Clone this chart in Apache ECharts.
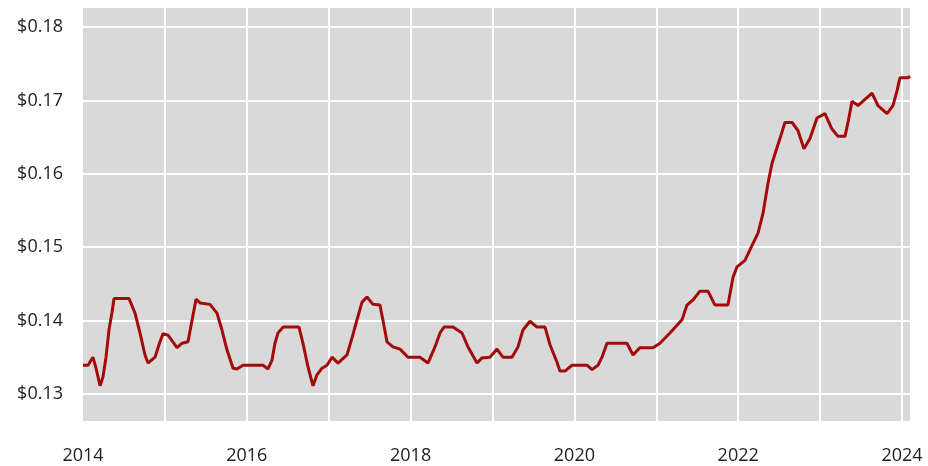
<!DOCTYPE html>
<html>
<head>
<meta charset="utf-8">
<script src="https://cdn.jsdelivr.net/npm/echarts@6/dist/echarts.min.js"></script>
<style>
  html, body { margin: 0; padding: 0; background: #fff; }
  #chart { width: 928px; height: 466px; }
</style>
</head>
<body>
<div id="chart"></div>
<script>
// decimal year of each reading
var years = [2014.000, 2014.061, 2014.122, 2014.159, 2014.208, 2014.244, 2014.281, 2014.317, 2014.354, 2014.379,
  2014.562, 2014.635, 2014.696, 2014.757, 2014.794, 2014.879, 2014.940, 2014.977, 2015.038, 2015.148,
  2015.209, 2015.282, 2015.331, 2015.380, 2015.429, 2015.551, 2015.636, 2015.697, 2015.758, 2015.832,
  2015.880, 2015.954, 2016.198, 2016.259, 2016.308, 2016.344, 2016.381, 2016.442, 2016.637, 2016.686,
  2016.747, 2016.808, 2016.857, 2016.918, 2016.979, 2017.040, 2017.114, 2017.223, 2017.284, 2017.346,
  2017.407, 2017.468, 2017.541, 2017.626, 2017.663, 2017.712, 2017.785, 2017.871, 2017.968, 2018.115,
  2018.212, 2018.298, 2018.359, 2018.408, 2018.518, 2018.628, 2018.701, 2018.811, 2018.872, 2018.969,
  2019.055, 2019.128, 2019.238, 2019.311, 2019.372, 2019.458, 2019.543, 2019.641, 2019.702, 2019.788,
  2019.824, 2019.885, 2019.971, 2020.154, 2020.215, 2020.288, 2020.337, 2020.398, 2020.642, 2020.716,
  2020.801, 2020.960, 2021.045, 2021.167, 2021.314, 2021.375, 2021.448, 2021.533, 2021.631, 2021.717,
  2021.875, 2021.937, 2021.985, 2022.083, 2022.168, 2022.242, 2022.303, 2022.364, 2022.413, 2022.449,
  2022.510, 2022.571, 2022.657, 2022.730, 2022.803, 2022.877, 2022.962, 2023.060, 2023.145, 2023.219,
  2023.304, 2023.341, 2023.390, 2023.463, 2023.634, 2023.707, 2023.817, 2023.890, 2023.939, 2023.976,
  2024.073, 2024.098];

// price per kWh
var prices = [0.1339, 0.1339, 0.1350, 0.1335, 0.1311, 0.1323, 0.1350, 0.1387, 0.1411, 0.1430,
  0.1430, 0.1410, 0.1383, 0.1353, 0.1342, 0.1350, 0.1371, 0.1382, 0.1380, 0.1363,
  0.1369, 0.1371, 0.1400, 0.1429, 0.1424, 0.1422, 0.1410, 0.1387, 0.1360, 0.1335,
  0.1334, 0.1339, 0.1339, 0.1334, 0.1346, 0.1369, 0.1383, 0.1391, 0.1391, 0.1369,
  0.1337, 0.1311, 0.1326, 0.1335, 0.1339, 0.1350, 0.1342, 0.1353, 0.1376, 0.1401,
  0.1425, 0.1432, 0.1422, 0.1421, 0.1400, 0.1371, 0.1364, 0.1361, 0.1350, 0.1350,
  0.1342, 0.1364, 0.1383, 0.1391, 0.1391, 0.1383, 0.1364, 0.1342, 0.1349, 0.1350,
  0.1361, 0.1350, 0.1350, 0.1364, 0.1387, 0.1399, 0.1391, 0.1391, 0.1367, 0.1343,
  0.1331, 0.1331, 0.1339, 0.1339, 0.1333, 0.1339, 0.1350, 0.1369, 0.1369, 0.1353,
  0.1363, 0.1363, 0.1369, 0.1383, 0.1401, 0.1421, 0.1428, 0.1440, 0.1440, 0.1421,
  0.1421, 0.1459, 0.1473, 0.1482, 0.1502, 0.1519, 0.1546, 0.1587, 0.1614, 0.1627,
  0.1648, 0.1670, 0.1670, 0.1659, 0.1634, 0.1648, 0.1676, 0.1682, 0.1661, 0.1651,
  0.1651, 0.1670, 0.1699, 0.1693, 0.1710, 0.1693, 0.1682, 0.1693, 0.1713, 0.1731,
  0.1731, 0.1733];

var yTicks = [0.13, 0.14, 0.15, 0.16, 0.17, 0.18];

var chart = echarts.init(document.getElementById('chart'));

var seriesData = []
for (var i = 0; i < years.length; i++) {
  seriesData.push([years[i], prices[i]])
}

var option = {
  animation: false,
  grid: {
    left: 83,
    right: 18,
    top: 8,
    bottom: 45,
    show: true,
    backgroundColor: '#d9d9d9',
    borderWidth: 0
  },
  xAxis: {
    type: 'value',
    min: 2014,
    max: 2024.098,
    interval: 1,
    axisLine: { show: false },
    axisTick: { show: false },
    axisLabel: {
      color: '#222',
      fontFamily: 'Open Sans',
      fontSize: 18,
      margin: 26,
      showMaxLabel: false,
      formatter: function (v) {
        return (Math.abs(v - Math.round(v)) < 1e-6 && Math.round(v) % 2 === 0) ? String(Math.round(v)) : '';
      }
    },
    splitLine: {
      show: true,
      showMinLine: false,
      showMaxLine: false,
      lineStyle: { color: '#ffffff', width: 2 }
    }
  },
  yAxis: {
    type: 'value',
    min: 0.1263,
    max: 0.1826,
    axisLine: { show: false },
    axisTick: { show: false, customValues: yTicks },
    axisLabel: {
      customValues: yTicks,
      color: '#222',
      fontFamily: 'Open Sans',
      fontSize: 18,
      margin: 20,
      formatter: function (v) { return '$' + v.toFixed(2); }
    },
    splitLine: {
      show: true,
      lineStyle: { color: '#ffffff', width: 2 }
    }
  },
  series: [{
    type: 'line',
    data: seriesData,
    showSymbol: false,
    lineStyle: { color: '#a30a0a', width: 3 },
    clip: true
  }]
};
chart.setOption(option);
</script>
</body>
</html>
